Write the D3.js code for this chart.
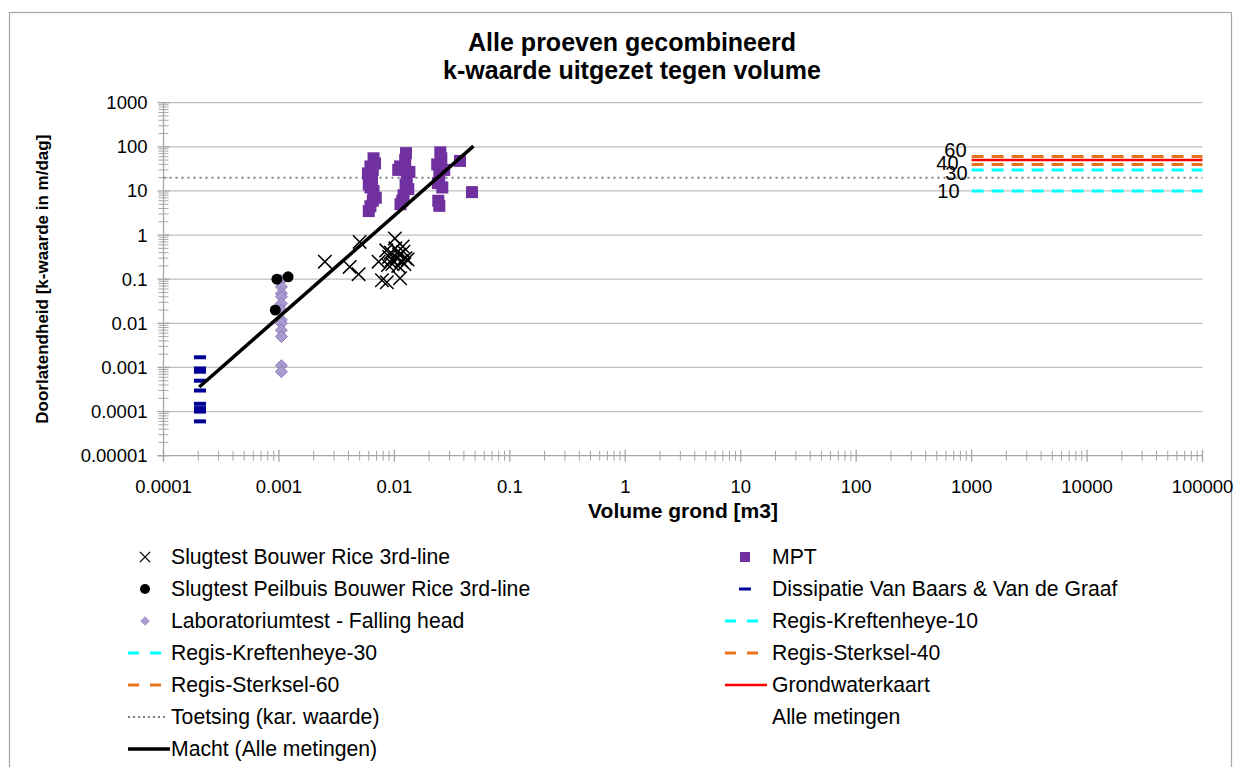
<!DOCTYPE html>
<html>
<head>
<meta charset="utf-8">
<script src="https://cdn.jsdelivr.net/npm/d3@7"></script>
<style>
  body { margin: 0; background: #fff; }
  text { font-family: "Liberation Sans", Arial, sans-serif; }
</style>
</head>
<body>
<svg id="chart" width="1241" height="767"></svg>
<script>
// ---- Data -------------------------------------------------------------
// Slugtest Bouwer Rice 3rd-line: volume [m3], k [m/dag]
const slugVol = [0.0025, 0.0041, 0.0049, 0.005, 0.0073, 0.0078, 0.0086, 0.0101, 0.0112,
  0.0085, 0.009, 0.0093, 0.0096, 0.0102, 0.0105, 0.011, 0.0115, 0.012, 0.0125, 0.013,
  0.0108, 0.0088, 0.0118, 0.0122, 0.0095, 0.0107];
const slugK = [0.25, 0.19, 0.13, 0.7, 0.25, 0.095, 0.085, 0.84, 0.105,
  0.45, 0.32, 0.4, 0.22, 0.5, 0.3, 0.36, 0.26, 0.42, 0.3, 0.28,
  0.2, 0.21, 0.55, 0.22, 0.28, 0.42];

// Slugtest Peilbuis Bouwer Rice 3rd-line
const peilVol = [0.00096, 0.0012, 0.00093];
const peilK = [0.1, 0.113, 0.02];

// Laboratoriumtest - Falling head
const labVol = [0.00105, 0.00105, 0.00105, 0.00105, 0.00105, 0.00105, 0.00105, 0.00105, 0.00105, 0.00105, 0.00105, 0.00105];
const labK = [0.095, 0.067, 0.048, 0.04, 0.028, 0.02, 0.012, 0.01, 0.007, 0.005, 0.0011, 0.0008];

// MPT
const mptVol = [0.0066, 0.0068, 0.0062, 0.0065, 0.0059, 0.0061, 0.0064, 0.006, 0.0062, 0.0066, 0.0069, 0.0065, 0.0062, 0.006,
  0.0126, 0.0124, 0.0112, 0.0108, 0.0135, 0.0128, 0.0125, 0.0132, 0.012, 0.0117, 0.0113,
  0.025, 0.0255, 0.0235, 0.027, 0.0245, 0.0238, 0.026, 0.024, 0.0245,
  0.037, 0.047];
const mptK = [55, 42, 36, 30, 25, 20, 17, 14, 12, 10, 7, 6, 4.5, 3.5,
  72, 50, 36, 30, 27, 20, 14, 11, 8, 6, 5,
  75, 55, 40, 30, 22, 15, 12, 6, 4.6,
  48, 9.4];

// Dissipatie Van Baars & Van de Graaf
const dissVol = [0.000207, 0.000207, 0.000207, 0.000207, 0.000207, 0.000207, 0.000207, 0.000207, 0.000207];
const dissK = [0.0017, 0.00095, 0.0008, 0.0005, 0.0003, 0.00015, 0.00012, 0.0001, 0.00006];

// Regional reference values, drawn from 1000 to 100000 m3
const refNames = ["Regis-Kreftenheye-10", "Regis-Kreftenheye-30", "Regis-Sterksel-40", "Regis-Sterksel-60", "Grondwaterkaart"];
const refK = [10, 30, 40, 60, 50];
const refLabels = ["10", "30", "40", "60", ""];
const refVol = [1000, 100000];

// Toetsing (karakteristieke waarde)
const toetsK = 20;
const toetsVol = [0.0001, 100000];

// Macht (Alle metingen): trend line end points
const trendVol = [0.000204, 0.0484];
const trendK = [0.00036, 104];

// Axis tick labels
const xTickLabels = ["0.0001", "0.001", "0.01", "0.1", "1", "10", "100", "1000", "10000", "100000"];
const yTickLabels = ["0.00001", "0.0001", "0.001", "0.01", "0.1", "1", "10", "100", "1000"];

// ---- Layout -----------------------------------------------------------
const svg = d3.select("#chart");
const plot = { left: 163.5, right: 1202.5, top: 102.7, bottom: 455.7 };

const x = d3.scaleLog().domain([1e-4, 1e5]).range([plot.left, plot.right]);
const y = d3.scaleLog().domain([1e-5, 1e3]).range([plot.bottom, plot.top]);

const axisColor = "#a6a6a6";
const gridColor = "#bfbfbf";

// chart frame
svg.append("rect").attr("x", 9.5).attr("y", 12.5).attr("width", 1222).attr("height", 800)
  .attr("fill", "#fff").attr("stroke", "#a6a6a6").attr("stroke-width", 1.2);

// title
const title = svg.append("text").attr("x", 632).attr("text-anchor", "middle")
  .attr("font-weight", "bold").attr("font-size", 25).attr("fill", "#000");
title.append("tspan").attr("x", 632).attr("y", 51).text("Alle proeven gecombineerd");
title.append("tspan").attr("x", 632).attr("y", 79).text("k-waarde uitgezet tegen volume");

// horizontal gridlines at each decade
const yMajor = yTickLabels.map(Number);
svg.append("g").selectAll("line").data(yMajor.filter(v => v > 1e-5)).join("line")
  .attr("x1", plot.left).attr("x2", plot.right)
  .attr("y1", d => y(d)).attr("y2", d => y(d))
  .attr("stroke", gridColor).attr("stroke-width", 1.3);

// minor tick positions (2..9 per decade)
function minorTicks(lo, hi) {
  const out = [];
  for (let e = lo; e < hi; e++) for (let m = 2; m <= 9; m++) out.push(m * Math.pow(10, e));
  return out;
}

// y axis
const yAxisG = svg.append("g");
yAxisG.append("line").attr("x1", plot.left).attr("x2", plot.left)
  .attr("y1", plot.top).attr("y2", plot.bottom + 6).attr("stroke", axisColor).attr("stroke-width", 1.3);
yAxisG.selectAll("line.minor").data(minorTicks(-5, 3)).join("line").attr("class", "minor")
  .attr("x1", plot.left - 5).attr("x2", plot.left + 5)
  .attr("y1", d => y(d)).attr("y2", d => y(d)).attr("stroke", axisColor).attr("stroke-width", 1);
yAxisG.selectAll("line.major").data(yMajor).join("line").attr("class", "major")
  .attr("x1", plot.left - 6).attr("x2", plot.left + 6)
  .attr("y1", d => y(d)).attr("y2", d => y(d)).attr("stroke", axisColor).attr("stroke-width", 1.3);
yAxisG.selectAll("text").data(yTickLabels).join("text")
  .attr("x", plot.left - 16).attr("y", d => y(+d)).attr("dy", "0.35em")
  .attr("text-anchor", "end").attr("font-size", 18.5).attr("fill", "#000").text(d => d);

// x axis
const xMajor = xTickLabels.map(Number);
const xAxisG = svg.append("g");
xAxisG.append("line").attr("x1", plot.left - 6).attr("x2", plot.right)
  .attr("y1", plot.bottom).attr("y2", plot.bottom).attr("stroke", axisColor).attr("stroke-width", 1.3);
xAxisG.selectAll("line.minor").data(minorTicks(-4, 5)).join("line").attr("class", "minor")
  .attr("x1", d => x(d)).attr("x2", d => x(d))
  .attr("y1", plot.bottom - 5).attr("y2", plot.bottom + 5).attr("stroke", axisColor).attr("stroke-width", 1);
xAxisG.selectAll("line.major").data(xMajor).join("line").attr("class", "major")
  .attr("x1", d => x(d)).attr("x2", d => x(d))
  .attr("y1", plot.bottom - 6).attr("y2", plot.bottom + 6).attr("stroke", axisColor).attr("stroke-width", 1.3);
xAxisG.selectAll("text").data(xTickLabels).join("text")
  .attr("x", d => x(+d)).attr("y", plot.bottom + 37)
  .attr("text-anchor", "middle").attr("font-size", 18.5).attr("fill", "#000").text(d => d);

// axis titles
svg.append("text").attr("x", (plot.left + plot.right) / 2).attr("y", 518)
  .attr("text-anchor", "middle").attr("font-weight", "bold").attr("font-size", 21).text("Volume grond [m3]");
svg.append("text").attr("transform", `translate(48,${(plot.top + plot.bottom) / 2}) rotate(-90)`)
  .attr("text-anchor", "middle").attr("font-weight", "bold").attr("font-size", 17)
  .text("Doorlatendheid [k-waarde in m/dag]");

// ---- Series -----------------------------------------------------------
const line = d3.line().x(d => x(d[0])).y(d => y(d[1]));
const refColors = ["#00ffff", "#00ffff", "#e8731f", "#e8731f", "#ff0000"];
const refDash = ["12,8", "12,8", "12,8", "12,8", null];

// Toetsing line
svg.append("path").attr("d", line(toetsVol.map(v => [v, toetsK])))
  .attr("fill", "none").attr("stroke", "#808080").attr("stroke-width", 2).attr("stroke-dasharray", "2,4");

// reference lines
refK.forEach((k, i) => {
  svg.append("path").attr("d", line(refVol.map(v => [v, k])))
    .attr("fill", "none").attr("stroke", refColors[i]).attr("stroke-width", i === 4 ? 2.5 : 3)
    .attr("stroke-dasharray", refDash[i]);
});
// value labels at the start of each reference line
const labelShift = [0, 3, -1, -7, 0];
const labelDx = [-12, -4, -13, -5, 0];
refK.forEach((k, i) => {
  if (!refLabels[i]) return;
  svg.append("text").attr("x", x(refVol[0]) + labelDx[i]).attr("y", y(k) + labelShift[i]).attr("dy", "0.35em")
    .attr("text-anchor", "end").attr("font-size", 20).attr("fill", "#000").text(refLabels[i]);
});

// Dissipatie markers (short dashes)
svg.append("g").selectAll("rect").data(d3.zip(dissVol, dissK)).join("rect")
  .attr("x", d => x(d[0]) - 6).attr("y", d => y(d[1]) - 2).attr("width", 12).attr("height", 4)
  .attr("fill", "#000099");

// MPT squares
svg.append("g").selectAll("rect").data(d3.zip(mptVol, mptK)).join("rect")
  .attr("x", d => x(d[0]) - 6).attr("y", d => y(d[1]) - 6).attr("width", 12).attr("height", 12)
  .attr("fill", "#7030a0");

// Laboratoriumtest diamonds
const diamond = d3.symbol().type(d3.symbolDiamond2).size(90);
svg.append("g").selectAll("path").data(d3.zip(labVol, labK)).join("path")
  .attr("transform", d => `translate(${x(d[0])},${y(d[1])})`).attr("d", diamond)
  .attr("fill", "#a99bcf").attr("stroke", "#8a78b8").attr("stroke-width", 1);

// Slugtest Peilbuis circles
svg.append("g").selectAll("circle").data(d3.zip(peilVol, peilK)).join("circle")
  .attr("cx", d => x(d[0])).attr("cy", d => y(d[1])).attr("r", 5.5).attr("fill", "#000");

// Slugtest Bouwer Rice crosses
const cross = d3.symbol().type(d3.symbolTimes).size(120);
svg.append("g").selectAll("path").data(d3.zip(slugVol, slugK)).join("path")
  .attr("transform", d => `translate(${x(d[0])},${y(d[1])})`).attr("d", cross)
  .attr("fill", "none").attr("stroke", "#000").attr("stroke-width", 1.5);

// trend line
svg.append("path").attr("d", line(d3.zip(trendVol, trendK)))
  .attr("fill", "none").attr("stroke", "#000").attr("stroke-width", 3.5);

// ---- Legend -----------------------------------------------------------
const legendItems = [
  { col: 0, row: 0, label: "Slugtest Bouwer Rice 3rd-line", kind: "cross" },
  { col: 0, row: 1, label: "Slugtest Peilbuis Bouwer Rice 3rd-line", kind: "circle" },
  { col: 0, row: 2, label: "Laboratoriumtest - Falling head", kind: "diamond" },
  { col: 0, row: 3, label: "Regis-Kreftenheye-30", kind: "dash", color: "#00ffff" },
  { col: 0, row: 4, label: "Regis-Sterksel-60", kind: "dash", color: "#e8731f" },
  { col: 0, row: 5, label: "Toetsing (kar. waarde)", kind: "dot" },
  { col: 0, row: 6, label: "Macht (Alle metingen)", kind: "solid", color: "#000", width: 3.5 },
  { col: 1, row: 0, label: "MPT", kind: "square" },
  { col: 1, row: 1, label: "Dissipatie Van Baars & Van de Graaf", kind: "bar" },
  { col: 1, row: 2, label: "Regis-Kreftenheye-10", kind: "dash", color: "#00ffff" },
  { col: 1, row: 3, label: "Regis-Sterksel-40", kind: "dash", color: "#e8731f" },
  { col: 1, row: 4, label: "Grondwaterkaart", kind: "solid", color: "#ff0000", width: 2.5 },
  { col: 1, row: 5, label: "Alle metingen", kind: "none" }
];
const colX = [128, 725];
const textX = [171, 772];
const rowY0 = 557, rowStep = 32;
const lg = svg.append("g");
legendItems.forEach(it => {
  const ly = rowY0 + it.row * rowStep;
  const mx = colX[it.col], mc = mx + 17;
  const g = lg.append("g");
  if (it.kind === "cross") g.append("path").attr("transform", `translate(${mc},${ly})`).attr("d", d3.symbol().type(d3.symbolTimes).size(70)).attr("stroke", "#000").attr("stroke-width", 1.3).attr("fill", "none");
  if (it.kind === "circle") g.append("circle").attr("cx", mc).attr("cy", ly).attr("r", 5).attr("fill", "#000");
  if (it.kind === "diamond") g.append("path").attr("transform", `translate(${mc},${ly})`).attr("d", d3.symbol().type(d3.symbolDiamond2).size(60)).attr("fill", "#a99bcf");
  if (it.kind === "square") g.append("rect").attr("x", mc + 3 - 5).attr("y", ly - 5).attr("width", 10).attr("height", 10).attr("fill", "#7030a0");
  if (it.kind === "bar") g.append("rect").attr("x", mc + 3 - 6).attr("y", ly - 1.5).attr("width", 12).attr("height", 3).attr("fill", "#000099");
  if (it.kind === "dash") g.append("line").attr("x1", mx).attr("x2", mx + 33).attr("y1", ly).attr("y2", ly).attr("stroke", it.color).attr("stroke-width", 3).attr("stroke-dasharray", "11,11");
  if (it.kind === "dot") g.append("line").attr("x1", mx).attr("x2", mx + 39).attr("y1", ly).attr("y2", ly).attr("stroke", "#808080").attr("stroke-width", 2).attr("stroke-dasharray", "2,3");
  if (it.kind === "solid") g.append("line").attr("x1", mx).attr("x2", mx + 42).attr("y1", ly).attr("y2", ly).attr("stroke", it.color).attr("stroke-width", it.width);
  g.append("text").attr("x", textX[it.col]).attr("y", ly).attr("dy", "0.35em")
    .attr("font-size", 21.2).attr("fill", "#000").text(it.label);
});
</script>
</body>
</html>
